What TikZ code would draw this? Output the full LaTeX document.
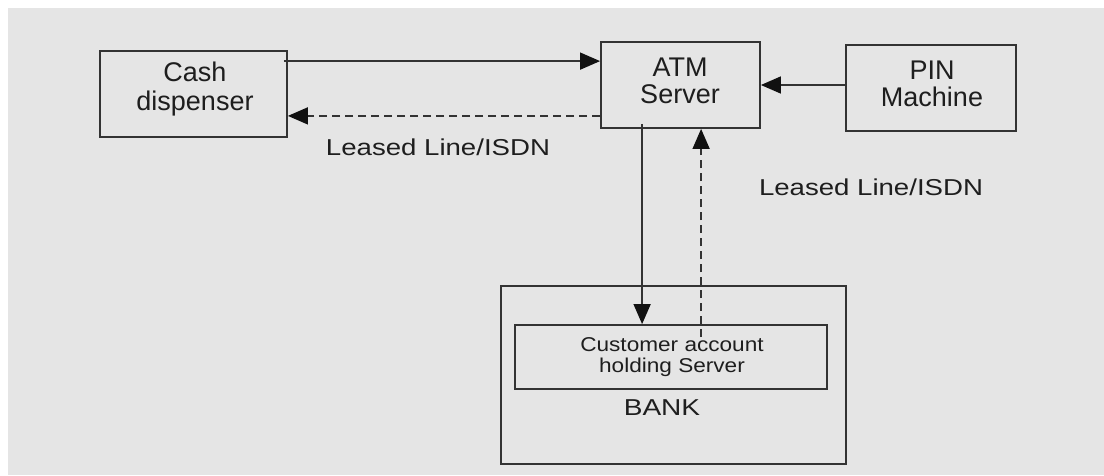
\documentclass[tikz,border=0pt]{standalone}
\usepackage{fontspec}
\usepackage{graphicx}
\setmainfont{Liberation Sans}
\usetikzlibrary{arrows.meta,calc}
\definecolor{bggray}{HTML}{E5E5E5}
\definecolor{ink}{HTML}{1E1E1E}
\definecolor{edge}{HTML}{333333}
\definecolor{head}{HTML}{111111}
\tikzset{
  box/.style={draw=edge, line width=1.8pt, inner sep=0pt, align=center, text=ink,
              font=\fontsize{27}{28}\selectfont},
  linklabel/.style={text=ink, inner sep=0pt, font=\fontsize{23}{24}\selectfont},
  solidarrow/.style={draw=edge, line width=1.5pt,
                     -{Triangle[length=20pt,width=17pt,color=head]}},
  dasharrow/.style={draw=edge, line width=1.5pt, dash pattern=on 8pt off 5pt,
                    -{Triangle[length=20pt,width=17pt,color=head]}}
}
\begin{document}
\begin{tikzpicture}[x=1pt, y=-1pt]
  % page and panel
  \fill[white] (0,0) rectangle (1104,475);
  \fill[bggray] (8,8) rectangle (1104,475);
  \useasboundingbox (0,0) rectangle (1104,475);

  % units
  \node[box, minimum width=187pt, minimum height=86pt] (cash) at (193.5,94) {};
  \node[text=ink, align=center, font=\fontsize{27}{29}\selectfont] (cashtxt) at (195,89) {Cash\\dispenser};

  \node[box, minimum width=159pt, minimum height=86pt] (atm) at (680.5,85) {};
  \node[text=ink, align=center, font=\fontsize{27}{27}\selectfont] (atmtxt) at (680,81) {ATM\\Server};

  \node[box, minimum width=170pt, minimum height=86pt] (pin) at (931,88) {};
  \node[text=ink, align=center, font=\fontsize{27}{27}\selectfont] (pintxt) at (932,84) {PIN\\Machine};

  % bank with its account server
  \node[box, minimum width=345pt, minimum height=178pt] (bank) at (673.5,375) {};
  \node[box, minimum width=312pt, minimum height=64pt] (cust) at (671,357) {};
  \node[text=ink, align=center, font=\fontsize{20}{21}\selectfont] (custtxt) at (672,357)
       {\scalebox{1.13}[1]{Customer account}\\\scalebox{1.13}[1]{holding Server}};
  \node[linklabel] (banktxt) at (662,408) {\scalebox{1.22}[1]{BANK}};

  % link labels
  \node[linklabel] (lease1) at (438,147) {\scalebox{1.2}[1]{Leased Line/ISDN}};
  \node[linklabel] (lease2) at (871,187) {\scalebox{1.2}[1]{Leased Line/ISDN}};

  % cash dispenser <-> ATM server
  \draw[solidarrow] ($(cash.north east)+(-4,11)$) -- ($(atm.north west)+(0,20)$);
  \draw[dasharrow] ($(atm.south west)+(0,-13)$) -- (cash.east |- {$(atm.south west)+(0,-13)$});

  % PIN machine -> ATM server
  \draw[solidarrow] (pin.west |- atm.east) -- (atm.east);

  % ATM server <-> account server
  \coordinate (dn) at ($(atm.south west)+(42,0)$);
  \coordinate (up) at ($(atm.south west)+(101,0)$);
  \draw[solidarrow] ($(dn)+(0,-5)$) -- (dn |- cust.north);
  \draw[dasharrow] ($(up |- cust.north)+(0,13)$) -- (up);
\end{tikzpicture}
\end{document}
